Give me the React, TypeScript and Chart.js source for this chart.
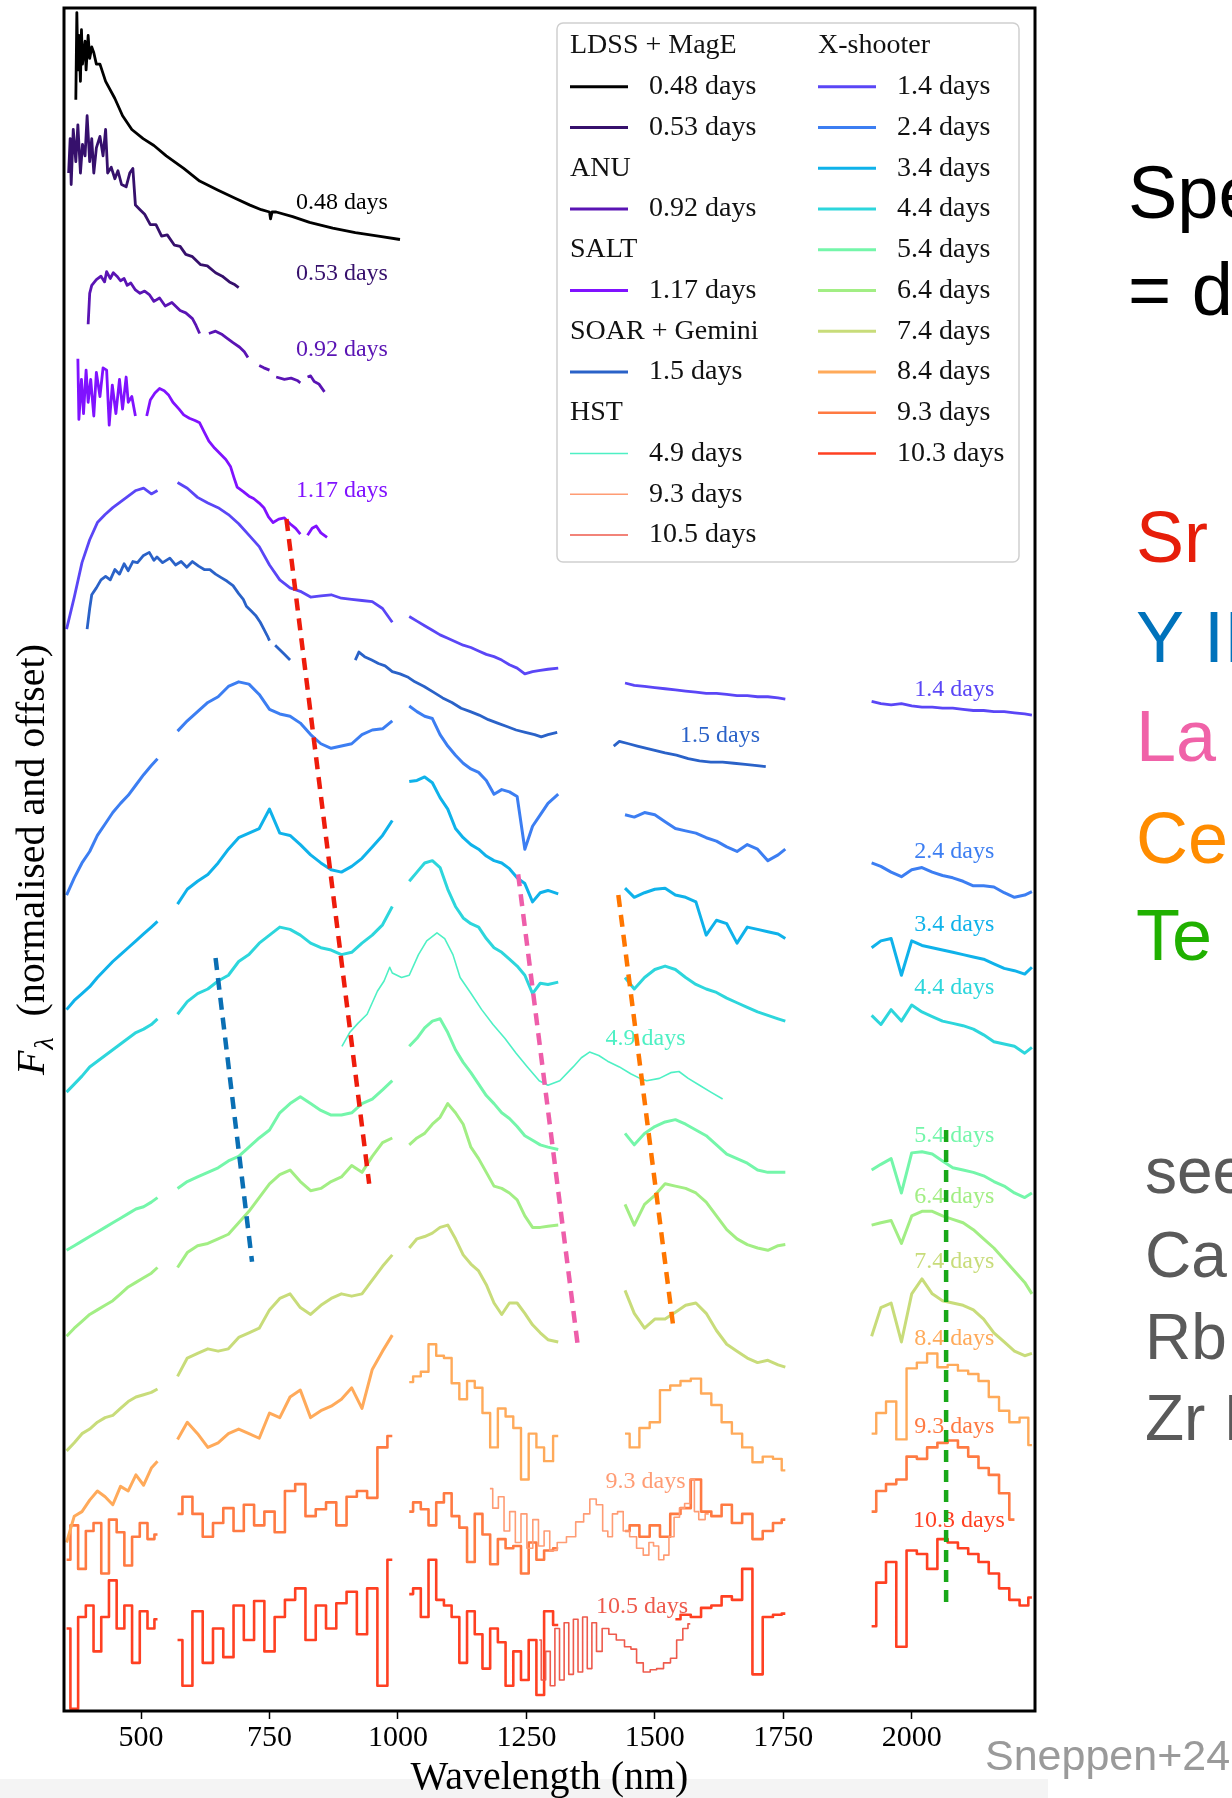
import React, { useEffect, useRef } from "react";
import { Chart, registerables } from "chart.js";

Chart.register(...registerables);

const CANVAS_W = 1232;
const CANVAS_H = 1798;
const SERIF = "'Liberation Serif', 'Times New Roman', serif";
const SANS = "'Liberation Sans', Arial, Helvetica, sans-serif";

// ---------- axes ----------
const X_TICKS = [500, 750, 1000, 1250, 1500, 1750, 2000];
const X_MIN = 350;
const X_MAX = 2240;
const Y_MIN = 0;
const Y_MAX = 14.86;

// ---------- X-shooter wavelength grids (nm), one per band ----------
const XS_UVB = [355, 370, 385, 400, 415, 430, 445, 460, 475, 490, 505, 520, 532];
const XS_VIS = [571, 590, 610, 630, 650, 670, 690, 710, 730, 750, 770, 790, 810, 830, 850, 870, 890, 910, 930, 950, 970, 989];
const XS_J = [1022, 1037, 1052, 1067, 1082, 1097, 1112, 1127, 1142, 1157, 1172, 1187, 1202, 1217, 1232, 1247, 1262, 1277, 1292, 1312];
const XS_H = [1442, 1460, 1480, 1500, 1520, 1540, 1560, 1580, 1600, 1620, 1640, 1660, 1680, 1700, 1720, 1740, 1754];
const XS_K = [1922, 1940, 1960, 1980, 2000, 2020, 2040, 2060, 2080, 2100, 2120, 2140, 2160, 2180, 2200, 2220, 2234];
const XS_BANDS = [XS_UVB, XS_VIS, XS_J, XS_H, XS_K];

// ---------- X-shooter fluxes (normalised + offset), per band ----------
const XS_1_4 = [
  [9.44, 9.72, 10.02, 10.22, 10.37, 10.44, 10.5, 10.55, 10.6, 10.65, 10.67, 10.62, 10.65],
  [10.72, 10.67, 10.59, 10.54, 10.5, 10.44, 10.36, 10.26, 10.16, 10.0, 9.87, 9.8, 9.77, 9.72, 9.73, 9.74, 9.71, 9.7, 9.69, 9.68, 9.62, 9.5],
  [9.55, 9.51, 9.47, 9.43, 9.39, 9.36, 9.33, 9.3, 9.28, 9.25, 9.22, 9.2, 9.17, 9.13, 9.1, 9.05, 9.07, 9.08, 9.09, 9.1],
  [8.97, 8.95, 8.94, 8.93, 8.92, 8.91, 8.9, 8.89, 8.88, 8.88, 8.87, 8.86, 8.86, 8.85, 8.85, 8.84, 8.83],
  [8.81, 8.79, 8.78, 8.79, 8.77, 8.76, 8.76, 8.75, 8.75, 8.74, 8.73, 8.73, 8.72, 8.72, 8.71, 8.7, 8.69],
];
const XS_2_4 = [
  [7.12, 7.27, 7.4, 7.5, 7.64, 7.74, 7.84, 7.92, 7.99, 8.08, 8.17, 8.25, 8.31],
  [8.55, 8.64, 8.72, 8.8, 8.85, 8.94, 8.98, 8.96, 8.87, 8.74, 8.7, 8.68, 8.62, 8.52, 8.44, 8.4, 8.42, 8.44, 8.52, 8.56, 8.57, 8.64],
  [8.77, 8.72, 8.68, 8.66, 8.52, 8.42, 8.34, 8.27, 8.22, 8.19, 8.12, 8.0, 8.04, 8.02, 7.98, 7.52, 7.72, 7.82, 7.92, 8.0],
  [7.82, 7.8, 7.84, 7.82, 7.76, 7.7, 7.68, 7.66, 7.62, 7.59, 7.54, 7.5, 7.56, 7.52, 7.42, 7.47, 7.52],
  [7.4, 7.37, 7.32, 7.28, 7.34, 7.36, 7.32, 7.29, 7.27, 7.24, 7.2, 7.2, 7.19, 7.14, 7.1, 7.12, 7.15],
];
const XS_3_4 = [
  [6.12, 6.2, 6.26, 6.32, 6.4, 6.47, 6.54, 6.6, 6.66, 6.72, 6.78, 6.84, 6.89],
  [7.04, 7.17, 7.24, 7.3, 7.4, 7.52, 7.62, 7.66, 7.7, 7.87, 7.66, 7.64, 7.56, 7.47, 7.4, 7.34, 7.32, 7.37, 7.44, 7.54, 7.64, 7.77],
  [8.11, 8.12, 8.15, 8.1, 7.97, 7.87, 7.7, 7.62, 7.56, 7.52, 7.46, 7.42, 7.4, 7.35, 7.27, 7.22, 7.06, 7.14, 7.16, 7.13],
  [7.18, 7.1, 7.14, 7.17, 7.18, 7.12, 7.1, 7.06, 6.77, 6.9, 6.87, 6.7, 6.84, 6.82, 6.8, 6.78, 6.74],
  [6.66, 6.72, 6.74, 6.42, 6.72, 6.68, 6.66, 6.64, 6.62, 6.6, 6.58, 6.56, 6.52, 6.48, 6.46, 6.43, 6.49],
];
const XS_4_4 = [
  [5.4, 5.47, 5.54, 5.62, 5.67, 5.72, 5.77, 5.82, 5.87, 5.92, 5.95, 5.99, 6.04],
  [6.08, 6.19, 6.26, 6.3, 6.37, 6.42, 6.54, 6.6, 6.7, 6.77, 6.84, 6.82, 6.77, 6.7, 6.66, 6.64, 6.6, 6.62, 6.7, 6.77, 6.86, 7.02],
  [7.24, 7.32, 7.4, 7.42, 7.36, 7.17, 7.02, 6.92, 6.87, 6.84, 6.74, 6.66, 6.62, 6.56, 6.5, 6.42, 6.26, 6.35, 6.34, 6.36],
  [6.4, 6.3, 6.4, 6.47, 6.5, 6.47, 6.4, 6.34, 6.3, 6.27, 6.22, 6.18, 6.14, 6.1, 6.07, 6.04, 6.02],
  [6.07, 5.99, 6.12, 6.02, 6.16, 6.1, 6.06, 6.02, 6.0, 5.98, 5.95, 5.9, 5.84, 5.82, 5.8, 5.74, 5.79],
];
const XS_5_4 = [
  [4.02, 4.06, 4.1, 4.14, 4.18, 4.22, 4.26, 4.3, 4.34, 4.38, 4.4, 4.44, 4.48],
  [4.56, 4.62, 4.66, 4.7, 4.74, 4.8, 4.84, 4.92, 5.0, 5.07, 5.22, 5.3, 5.36, 5.3, 5.24, 5.2, 5.2, 5.22, 5.3, 5.34, 5.42, 5.5],
  [5.8, 5.87, 5.96, 6.02, 6.04, 5.92, 5.77, 5.66, 5.57, 5.47, 5.37, 5.3, 5.22, 5.17, 5.1, 5.02, 4.98, 4.94, 4.92, 4.9],
  [5.04, 4.94, 5.04, 5.1, 5.14, 5.16, 5.12, 5.07, 5.02, 4.94, 4.86, 4.82, 4.78, 4.72, 4.7, 4.7, 4.7],
  [4.72, 4.77, 4.82, 4.52, 4.87, 4.88, 4.86, 4.8, 4.74, 4.72, 4.7, 4.67, 4.62, 4.58, 4.52, 4.48, 4.52],
];
const XS_6_4 = [
  [3.27, 3.34, 3.4, 3.46, 3.5, 3.54, 3.58, 3.64, 3.7, 3.74, 3.78, 3.82, 3.87],
  [3.87, 4.0, 4.06, 4.08, 4.12, 4.16, 4.26, 4.36, 4.48, 4.6, 4.68, 4.72, 4.62, 4.54, 4.56, 4.62, 4.66, 4.76, 4.7, 4.84, 4.96, 5.0],
  [4.94, 5.0, 5.04, 5.12, 5.18, 5.3, 5.22, 5.12, 4.92, 4.82, 4.7, 4.58, 4.56, 4.52, 4.46, 4.32, 4.22, 4.22, 4.23, 4.24],
  [4.42, 4.24, 4.42, 4.5, 4.6, 4.58, 4.56, 4.52, 4.44, 4.32, 4.2, 4.12, 4.07, 4.04, 4.02, 4.06, 4.07],
  [4.24, 4.26, 4.28, 4.08, 4.32, 4.36, 4.36, 4.32, 4.29, 4.26, 4.2, 4.12, 4.04, 3.94, 3.84, 3.74, 3.64],
];
const XS_7_4 = [
  [2.27, 2.34, 2.42, 2.46, 2.52, 2.56, 2.58, 2.64, 2.7, 2.74, 2.76, 2.78, 2.81],
  [2.92, 3.08, 3.12, 3.16, 3.14, 3.16, 3.26, 3.3, 3.34, 3.5, 3.6, 3.64, 3.52, 3.46, 3.54, 3.6, 3.64, 3.62, 3.64, 3.76, 3.88, 3.98],
  [4.04, 4.12, 4.14, 4.17, 4.22, 4.24, 4.12, 3.98, 3.9, 3.84, 3.72, 3.56, 3.46, 3.56, 3.56, 3.47, 3.37, 3.3, 3.24, 3.22],
  [3.67, 3.47, 3.34, 3.42, 3.42, 3.48, 3.54, 3.56, 3.47, 3.32, 3.2, 3.14, 3.08, 3.04, 3.06, 3.02, 3.0],
  [3.27, 3.52, 3.56, 3.22, 3.64, 3.77, 3.64, 3.58, 3.56, 3.54, 3.5, 3.42, 3.3, 3.22, 3.14, 3.1, 3.12],
];
const XS_8_4 = [
  [1.47, 1.7, 1.74, 1.84, 1.92, 1.87, 1.8, 1.96, 1.92, 2.06, 1.97, 2.12, 2.18],
  [2.37, 2.52, 2.42, 2.3, 2.34, 2.42, 2.46, 2.42, 2.38, 2.6, 2.56, 2.74, 2.8, 2.56, 2.62, 2.66, 2.72, 2.82, 2.64, 2.98, 3.14, 3.28],
  [2.87, 2.92, 2.96, 3.2, 3.1, 3.08, 2.86, 2.72, 2.88, 2.82, 2.6, 2.3, 2.64, 2.57, 2.47, 2.02, 2.42, 2.3, 2.18, 2.4],
  [2.42, 2.3, 2.47, 2.52, 2.8, 2.84, 2.88, 2.9, 2.77, 2.67, 2.52, 2.42, 2.3, 2.17, 2.22, 2.2, 2.1],
  [2.42, 2.6, 2.7, 2.37, 2.99, 3.04, 3.12, 3.0, 3.02, 2.97, 2.94, 2.88, 2.74, 2.62, 2.52, 2.56, 2.32],
];
const XS_9_3 = [
  [1.32, 1.62, 1.24, 1.57, 1.64, 1.2, 1.67, 1.56, 1.27, 1.52, 1.64, 1.5, 1.54],
  [1.72, 1.87, 1.72, 1.52, 1.64, 1.77, 1.57, 1.8, 1.62, 1.74, 1.56, 1.92, 1.98, 1.7, 1.76, 1.82, 1.62, 1.87, 1.92, 1.86, 2.3, 2.4],
  [1.74, 1.82, 1.76, 1.62, 1.82, 1.9, 1.7, 1.6, 1.3, 1.72, 1.54, 1.28, 1.5, 1.42, 1.44, 1.2, 1.47, 1.32, 1.4, 1.42],
  [1.57, 1.62, 1.52, 1.62, 1.52, 1.72, 1.77, 2.02, 1.74, 1.7, 1.8, 1.64, 1.72, 1.5, 1.57, 1.64, 1.67],
  [1.74, 1.92, 1.98, 2.02, 2.22, 2.2, 2.3, 2.34, 2.36, 2.3, 2.22, 2.12, 2.06, 1.9, 1.67, null, null],
];
const XS_10_3 = [
  [0.72, 0.02, 0.82, 0.92, 0.52, 0.82, 1.14, 0.72, 0.92, 0.42, 0.87, 0.72, 0.8],
  [0.62, 0.22, 0.87, 0.42, 0.72, 0.47, 0.92, 0.62, 0.96, 0.52, 0.82, 0.97, 1.07, 0.62, 0.92, 0.72, 0.94, 1.04, 0.67, 1.07, 0.22, 1.32],
  [1.02, 1.07, 0.82, 1.32, 0.97, 0.92, 0.82, 0.42, 0.87, 0.67, 0.37, 0.72, 0.6, 0.22, 0.52, 0.27, 0.62, 0.14, 0.87, 0.75],
  [null, null, null, null, null, 0.8, 0.84, 0.82, 0.9, 0.92, 1.0, 0.97, 1.24, 0.32, 0.82, 0.84, 0.85],
  [0.74, 1.12, 1.3, 0.56, 1.4, 1.37, 1.24, 1.5, 1.47, 1.42, 1.37, 1.3, 1.2, 1.07, 0.97, 0.92, 0.99],
];

// ---------- other instruments: segments of [nm, flux] ----------
const LDSS_048 = [[
  [373, 14.06], [375, 14.82], [377, 14.32], [379, 14.62], [382, 14.22], [384, 14.67], [386, 14.37], [391, 14.57],
  [393, 14.32], [397, 14.62], [400, 14.42], [404, 14.52], [408, 14.47], [413, 14.37], [420, 14.37], [431, 14.22],
  [449, 14.07], [464, 13.92], [482, 13.8], [504, 13.72], [525, 13.66], [549, 13.57], [583, 13.46], [614, 13.35],
  [650, 13.27], [683, 13.2], [712, 13.14], [734, 13.1], [750, 13.08], [752, 13.02], [755, 13.08], [763, 13.08],
  [795, 13.04], [828, 12.99], [873, 12.94], [917, 12.9], [962, 12.87], [1004, 12.84],
]];
const LDSS_053 = [[
  [359, 13.42], [362, 13.72], [364, 13.32], [368, 13.8], [373, 13.52], [377, 13.84], [382, 13.42], [386, 13.67],
  [391, 13.57], [395, 13.92], [400, 13.52], [404, 13.72], [408, 13.42], [413, 13.64], [420, 13.74], [426, 13.57],
  [431, 13.8], [435, 13.42], [442, 13.47], [449, 13.37], [455, 13.44], [462, 13.32], [471, 13.3], [478, 13.42],
  [484, 13.46], [489, 13.14], [498, 13.1], [507, 13.06], [518, 12.97], [529, 12.97], [540, 12.87], [551, 12.88],
  [565, 12.79], [576, 12.78], [587, 12.71], [600, 12.69], [616, 12.62], [629, 12.61], [645, 12.55], [658, 12.52],
  [672, 12.47], [681, 12.45], [690, 12.42],
]];
const ANU_092 = [
  [[397, 12.1], [400, 12.37], [404, 12.44], [413, 12.49], [422, 12.52], [429, 12.47], [433, 12.56], [440, 12.5],
   [446, 12.55], [453, 12.52], [460, 12.48], [467, 12.5], [473, 12.44], [480, 12.46], [489, 12.4], [498, 12.37],
   [507, 12.39], [516, 12.36], [525, 12.3], [536, 12.33], [547, 12.26], [560, 12.29], [576, 12.22], [587, 12.2],
   [600, 12.15], [607, 12.09], [614, 12.02]],
  [[632, 12.02], [645, 12.04], [658, 12.01], [667, 11.98], [679, 11.94], [692, 11.9], [701, 11.86], [708, 11.81]],
  [[730, 11.74], [739, 11.72], [750, 11.7]],
  [[763, 11.64], [779, 11.62], [792, 11.63], [804, 11.61], [810, 11.59]],
  [[824, 11.64], [830, 11.65], [837, 11.6], [846, 11.58], [857, 11.51]],
];
const SALT_117 = [
  [[377, 11.8], [379, 11.27], [384, 11.62], [388, 11.32], [393, 11.7], [397, 11.42], [402, 11.62], [408, 11.3],
   [413, 11.68], [420, 11.47], [426, 11.72], [433, 11.7], [438, 11.22], [444, 11.57], [451, 11.32], [458, 11.62],
   [464, 11.36], [471, 11.64], [475, 11.42], [482, 11.47], [489, 11.3]],
  [[511, 11.3], [518, 11.44], [527, 11.5], [536, 11.54], [545, 11.52], [554, 11.48], [562, 11.42], [574, 11.36],
   [583, 11.31], [594, 11.28], [605, 11.26], [614, 11.24], [623, 11.16], [632, 11.08], [643, 11.02], [654, 10.97],
   [665, 10.92], [674, 10.86], [681, 10.76], [687, 10.68], [699, 10.64], [710, 10.6], [719, 10.58], [730, 10.54],
   [739, 10.5], [748, 10.42], [757, 10.37], [768, 10.4], [779, 10.41], [790, 10.36], [801, 10.32], [810, 10.27]],
  [[824, 10.26], [833, 10.32], [841, 10.34], [850, 10.28], [862, 10.24]],
];
const SOAR_15 = [
  [[395, 9.44], [400, 9.62], [404, 9.74], [413, 9.8], [422, 9.87], [431, 9.9], [440, 9.87], [449, 9.96],
   [458, 9.92], [467, 10.01], [475, 9.95], [484, 10.03], [493, 10.02], [504, 10.08], [516, 10.11], [525, 10.04],
   [531, 10.07], [542, 10.02], [556, 10.06], [567, 10.0], [578, 10.03], [589, 9.98], [600, 10.03], [612, 9.99],
   [623, 9.96], [634, 9.96], [645, 9.92], [656, 9.89], [667, 9.86], [679, 9.82], [690, 9.75], [699, 9.7],
   [705, 9.64], [714, 9.6], [723, 9.56], [732, 9.5], [739, 9.44], [746, 9.38], [750, 9.34]],
  [[761, 9.3], [770, 9.26], [779, 9.22], [790, 9.17]],
  [[917, 9.17], [924, 9.24], [935, 9.2], [949, 9.17], [962, 9.14], [975, 9.12], [989, 9.07], [1004, 9.05],
   [1020, 9.02], [1033, 8.98], [1051, 8.94], [1069, 8.89], [1087, 8.84], [1105, 8.8], [1123, 8.75], [1141, 8.72],
   [1158, 8.69], [1176, 8.65], [1194, 8.62], [1212, 8.59], [1230, 8.56], [1248, 8.54], [1266, 8.52], [1279, 8.5],
   [1292, 8.52], [1310, 8.54]],
  [[1420, 8.42], [1431, 8.46], [1449, 8.44], [1466, 8.42], [1484, 8.4], [1502, 8.38], [1520, 8.36], [1542, 8.34],
   [1565, 8.31], [1587, 8.29], [1609, 8.28], [1632, 8.28], [1654, 8.27], [1676, 8.26], [1699, 8.25], [1716, 8.24]],
];
const HST_49 = [[
  [891, 5.8], [906, 5.92], [922, 6.0], [940, 6.08], [960, 6.28], [973, 6.37], [984, 6.49], [989, 6.44], [1007, 6.4],
  [1022, 6.42], [1040, 6.6], [1056, 6.72], [1076, 6.79], [1091, 6.74], [1107, 6.6], [1121, 6.4], [1141, 6.27],
  [1163, 6.12], [1185, 5.99], [1208, 5.87], [1230, 5.74], [1252, 5.62], [1275, 5.5], [1292, 5.46], [1315, 5.5],
  [1341, 5.62], [1357, 5.7], [1373, 5.75], [1391, 5.72], [1408, 5.67], [1431, 5.62], [1453, 5.56], [1471, 5.52],
  [1484, 5.5], [1509, 5.52], [1531, 5.57], [1547, 5.58], [1565, 5.52], [1587, 5.46], [1609, 5.4], [1632, 5.34],
]];
const HST_93 = [[
  [1179, 1.94], [1190, 1.77], [1201, 1.87], [1212, 1.57], [1223, 1.74], [1234, 1.47], [1245, 1.72], [1257, 1.42],
  [1268, 1.67], [1279, 1.44], [1290, 1.57], [1301, 1.4], [1319, 1.47], [1337, 1.52], [1355, 1.65], [1368, 1.72],
  [1379, 1.85], [1393, 1.8], [1404, 1.57], [1413, 1.52], [1422, 1.72], [1433, 1.74], [1444, 1.57], [1458, 1.52],
  [1471, 1.42], [1484, 1.36], [1493, 1.47], [1502, 1.44], [1513, 1.32], [1522, 1.36], [1533, 1.52], [1542, 1.69],
  [1554, 1.77], [1562, 1.81], [1574, 2.02], [1580, 1.74], [1591, 1.67], [1605, 1.72],
]];
const HST_105 = [[
  [1275, 0.62], [1283, 0.27], [1292, 0.52], [1301, 0.22], [1310, 0.72], [1319, 0.27], [1328, 0.77], [1337, 0.32],
  [1346, 0.8], [1355, 0.34], [1364, 0.82], [1373, 0.37], [1382, 0.77], [1391, 0.52], [1404, 0.72], [1417, 0.67],
  [1433, 0.62], [1449, 0.56], [1458, 0.54], [1471, 0.42], [1484, 0.34], [1498, 0.36], [1509, 0.37], [1525, 0.42],
  [1536, 0.46], [1549, 0.62], [1560, 0.72], [1569, 0.76],
]];

// ---------- line identifications (dashed guides) ----------
const SR_LINE = [[783, 10.4], [944, 4.6]];
const Y_LINE = [[645, 6.57], [716, 3.92]];
const LA_LINE = [[1234, 7.3], [1350, 3.19]];
const CE_LINE = [[1429, 7.12], [1536, 3.35]];
const TE_LINE = [[2067, 5.07], [2067, 0.94]];

// ---------- colours ----------
const COLORS: Record<string, string> = {
  ldss048: "#000000",
  ldss053: "#36106c",
  anu092: "#5a14b4",
  salt117: "#8012ff",
  soar15: "#2a62c8",
  xs14: "#5a46f6",
  xs24: "#3c7ef2",
  xs34: "#0fb2ea",
  xs44: "#2dd6dc",
  xs54: "#74f6aa",
  xs64: "#a2ee84",
  xs74: "#c8dc7a",
  xs84: "#ffaa5a",
  xs93: "#ff7a42",
  xs103: "#ff4022",
  hst49: "#4ef0c4",
  hst93: "#ff9c74",
  hst105: "#ee5a4c",
};

// ---------- in-plot epoch labels: text, nm, flux, series ----------
const DAY_LABELS: [string, number, number, string][] = [
  ["0.48 days", 891, 13.16, "ldss048"],
  ["0.53 days", 891, 12.54, "ldss053"],
  ["0.92 days", 891, 11.88, "anu092"],
  ["1.17 days", 891, 10.65, "salt117"],
  ["1.4 days", 2083, 8.91, "xs14"],
  ["1.5 days", 1627, 8.51, "soar15"],
  ["2.4 days", 2083, 7.5, "xs24"],
  ["3.4 days", 2083, 6.86, "xs34"],
  ["4.4 days", 2083, 6.31, "xs44"],
  ["4.9 days", 1482, 5.87, "hst49"],
  ["5.4 days", 2083, 5.02, "xs54"],
  ["6.4 days", 2083, 4.49, "xs64"],
  ["7.4 days", 2083, 3.92, "xs74"],
  ["8.4 days", 2083, 3.25, "xs84"],
  ["9.3 days", 2083, 2.48, "xs93"],
  ["9.3 days", 1482, 2.0, "hst93"],
  ["10.3 days", 2092, 1.66, "xs103"],
  ["10.5 days", 1475, 0.91, "hst105"],
];

// ---------- legend ----------
const LEGEND_LEFT: [string, string | null][] = [
  ["LDSS + MagE", null], ["0.48 days", "ldss048"], ["0.53 days", "ldss053"],
  ["ANU", null], ["0.92 days", "anu092"],
  ["SALT", null], ["1.17 days", "salt117"],
  ["SOAR + Gemini", null], ["1.5 days", "soar15"],
  ["HST", null], ["4.9 days", "hst49"], ["9.3 days", "hst93"], ["10.5 days", "hst105"],
];
const LEGEND_RIGHT: [string, string | null][] = [
  ["X-shooter", null], ["1.4 days", "xs14"], ["2.4 days", "xs24"], ["3.4 days", "xs34"], ["4.4 days", "xs44"],
  ["5.4 days", "xs54"], ["6.4 days", "xs64"], ["7.4 days", "xs74"], ["8.4 days", "xs84"], ["9.3 days", "xs93"],
  ["10.3 days", "xs103"],
];

// ---------- side notes ----------
const SIDE_NOTES: [string, number, number, number, string][] = [
  ["Spe", 1128, 218, 74, "#000000"],
  ["= d", 1128, 315, 74, "#000000"],
  ["Sr", 1136, 562, 72, "#e61e0a"],
  ["Y II", 1136, 662, 72, "#0072bb"],
  ["La", 1136, 761, 72, "#f062a8"],
  ["Ce", 1136, 863, 72, "#ff8c00"],
  ["Te", 1136, 960, 72, "#20b000"],
  ["see", 1145, 1193, 64, "#5a5a5a"],
  ["Ca", 1145, 1277, 64, "#5a5a5a"],
  ["Rb", 1145, 1359, 64, "#5a5a5a"],
  ["Zr II", 1145, 1440, 64, "#5a5a5a"],
  ["Sneppen+24", 985, 1770, 43, "#9a9a9a"],
];

type Pt = { x: number; y: number | null };

function fromSegments(segs: number[][][]): Pt[] {
  const out: Pt[] = [];
  segs.forEach((seg, i) => {
    if (i > 0) out.push({ x: seg[0][0] - 0.5, y: null });
    seg.forEach(([x, y]) => out.push({ x, y }));
  });
  return out;
}

// bands: indices into XS_BANDS to include
function fromBands(fluxes: (number | null)[][], bands: number[] = [0, 1, 2, 3, 4]): Pt[] {
  const out: Pt[] = [];
  bands.forEach((b, i) => {
    const wave = XS_BANDS[b];
    const flux = fluxes[b];
    if (i > 0) out.push({ x: wave[0] - 0.5, y: null });
    const n = Math.min(wave.length, flux.length);
    for (let j = 0; j < n; j++) out.push({ x: wave[j], y: flux[j] });
  });
  return out;
}

type Series = { key: string; pts: Pt[]; width: number; stepped?: boolean };

const OPT = [0, 1];
const NIR = [2, 3, 4];

const SERIES: Series[] = [
  { key: "ldss048", pts: fromSegments(LDSS_048), width: 2.8 },
  { key: "ldss053", pts: fromSegments(LDSS_053), width: 2.8 },
  { key: "anu092", pts: fromSegments(ANU_092), width: 2.8 },
  { key: "salt117", pts: fromSegments(SALT_117), width: 2.8 },
  { key: "xs14", pts: fromBands(XS_1_4), width: 2.8 },
  { key: "soar15", pts: fromSegments(SOAR_15), width: 2.8 },
  { key: "xs24", pts: fromBands(XS_2_4), width: 3 },
  { key: "xs34", pts: fromBands(XS_3_4), width: 3 },
  { key: "xs44", pts: fromBands(XS_4_4), width: 3 },
  { key: "hst49", pts: fromSegments(HST_49), width: 1.6 },
  { key: "xs54", pts: fromBands(XS_5_4), width: 3 },
  { key: "xs64", pts: fromBands(XS_6_4), width: 3 },
  { key: "xs74", pts: fromBands(XS_7_4), width: 3 },
  { key: "xs84", pts: fromBands(XS_8_4, OPT), width: 3 },
  { key: "xs84", pts: fromBands(XS_8_4, NIR), width: 2.4, stepped: true },
  { key: "hst93", pts: fromSegments(HST_93), width: 1.6, stepped: true },
  { key: "xs93", pts: fromBands(XS_9_3), width: 2.6, stepped: true },
  { key: "hst105", pts: fromSegments(HST_105), width: 1.6, stepped: true },
  { key: "xs103", pts: fromBands(XS_10_3), width: 2.6, stepped: true },
];

const GUIDES: { pts: number[][]; color: string }[] = [
  { pts: SR_LINE, color: "#ee1c0c" },
  { pts: Y_LINE, color: "#0a6fb4" },
  { pts: LA_LINE, color: "#ee5eaa" },
  { pts: CE_LINE, color: "#ff7600" },
  { pts: TE_LINE, color: "#18a818" },
];

const widthOf = (key: string) => SERIES.find((s) => s.key === key)?.width ?? 2.6;

const decorations = {
  id: "decorations",
  beforeDraw(chart: any) {
    const { ctx } = chart;
    ctx.save();
    ctx.fillStyle = "#f4f4f4";
    ctx.fillRect(0, 1779, 1048, CANVAS_H - 1779);
    ctx.restore();
  },
  beforeDatasetsDraw(chart: any) {
    const { ctx, scales } = chart;
    ctx.save();
    ctx.font = `24px ${SERIF}`;
    ctx.textAlign = "center";
    ctx.textBaseline = "middle";
    DAY_LABELS.forEach(([text, wl, f, key]) => {
      ctx.fillStyle = COLORS[key];
      ctx.fillText(text, scales.x.getPixelForValue(wl), scales.y.getPixelForValue(f));
    });
    ctx.restore();
  },
  afterDraw(chart: any) {
    const { ctx, chartArea } = chart;
    const { left, top, right, bottom } = chartArea;
    ctx.save();

    // frame
    ctx.strokeStyle = "#000";
    ctx.lineWidth = 3;
    ctx.strokeRect(left, top, right - left, bottom - top);

    // y-axis title: F_lambda (normalised and offset)
    ctx.save();
    ctx.translate(34, (top + bottom) / 2);
    ctx.rotate(-Math.PI / 2);
    ctx.fillStyle = "#000";
    ctx.textBaseline = "alphabetic";
    ctx.textAlign = "left";
    const fMain = `italic 40px ${SERIF}`;
    const fSub = `italic 28px ${SERIF}`;
    const fRest = `40px ${SERIF}`;
    const rest = "  (normalised and offset)";
    ctx.font = fMain;
    const wF = ctx.measureText("F").width;
    ctx.font = fSub;
    const wL = ctx.measureText("λ").width;
    ctx.font = fRest;
    const wR = ctx.measureText(rest).width;
    let cx = -(wF + wL + wR + 2) / 2;
    const base = 9.5;
    ctx.font = fMain;
    ctx.fillText("F", cx, base);
    cx += wF + 1;
    ctx.font = fSub;
    ctx.fillText("λ", cx, base + 9);
    cx += wL + 1;
    ctx.font = fRest;
    ctx.fillText(rest, cx, base);
    ctx.restore();

    // legend box
    const LX = 557, LY = 23, LW = 462, LH = 539;
    ctx.beginPath();
    if ((ctx as any).roundRect) (ctx as any).roundRect(LX, LY, LW, LH, 6);
    else ctx.rect(LX, LY, LW, LH);
    ctx.fillStyle = "rgba(255,255,255,0.9)";
    ctx.fill();
    ctx.strokeStyle = "#cfcfcf";
    ctx.lineWidth = 1.5;
    ctx.stroke();

    const row0 = 46;
    const rowH = 40.75;
    const drawColumn = (items: [string, string | null][], x0: number) => {
      items.forEach(([text, key], i) => {
        const yy = row0 + i * rowH;
        ctx.font = `28px ${SERIF}`;
        ctx.fillStyle = "#111";
        ctx.textBaseline = "middle";
        ctx.textAlign = "left";
        if (key === null) {
          ctx.fillText(text, x0, yy);
        } else {
          ctx.strokeStyle = COLORS[key];
          ctx.lineWidth = widthOf(key);
          ctx.beginPath();
          ctx.moveTo(x0, yy);
          ctx.lineTo(x0 + 58, yy);
          ctx.stroke();
          ctx.fillText(text, x0 + 79, yy);
        }
      });
    };
    drawColumn(LEGEND_LEFT, 570);
    drawColumn(LEGEND_RIGHT, 818);

    // side notes
    ctx.textBaseline = "alphabetic";
    ctx.textAlign = "left";
    SIDE_NOTES.forEach(([text, x, y, size, color]) => {
      ctx.font = `${size}px ${SANS}`;
      ctx.fillStyle = color;
      ctx.fillText(text, x, y);
    });
    ctx.restore();
  },
};

export default function App() {
  const canvasRef = useRef<HTMLCanvasElement>(null);

  useEffect(() => {
    const canvas = canvasRef.current;
    if (!canvas) return;
    Chart.defaults.font.family = SERIF;

    const datasets: any[] = [
      ...GUIDES.map((g) => ({
        data: g.pts.map(([x, y]) => ({ x, y })),
        borderColor: g.color,
        borderWidth: 4.5,
        borderDash: [12, 8],
        borderCapStyle: "butt",
        pointRadius: 0,
        fill: false,
        order: 0,
      })),
      ...SERIES.map((s) => ({
        data: s.pts,
        borderColor: COLORS[s.key],
        borderWidth: s.width,
        stepped: s.stepped ? "middle" : false,
        tension: 0,
        pointRadius: 0,
        fill: false,
        spanGaps: false,
        borderJoinStyle: "round",
        order: 1,
      })),
    ];

    const chart = new Chart(canvas, {
      type: "line",
      data: { datasets },
      options: {
        animation: false,
        responsive: false,
        devicePixelRatio: 1,
        events: [],
        layout: { padding: { left: 64, right: 197, top: 8, bottom: 0 } },
        plugins: { legend: { display: false }, tooltip: { enabled: false } },
        scales: {
          x: {
            type: "linear",
            position: "bottom",
            min: X_MIN,
            max: X_MAX,
            afterBuildTicks: (s: any) => {
              s.ticks = X_TICKS.map((v) => ({ value: v }));
            },
            afterFit: (s: any) => {
              s.height = 87;
            },
            ticks: {
              callback: (v: any) => String(v),
              font: { family: SERIF, size: 30 },
              color: "#000",
              padding: 1,
              maxRotation: 0,
              autoSkip: false,
            },
            grid: {
              drawOnChartArea: false,
              drawTicks: true,
              tickLength: 8,
              tickWidth: 1.5,
              tickColor: "#000",
            },
            border: { display: false },
            title: {
              display: true,
              text: "Wavelength (nm)",
              font: { family: SERIF, size: 40, lineHeight: 1 },
              color: "#000",
              padding: 0,
            },
          },
          y: { type: "linear", display: false, min: Y_MIN, max: Y_MAX },
        },
      } as any,
      plugins: [decorations],
    });

    return () => chart.destroy();
  }, []);

  return (
    <div style={{ position: "absolute", left: 0, top: 0, width: CANVAS_W, height: CANVAS_H, overflow: "hidden" }}>
      <canvas
        ref={canvasRef}
        width={CANVAS_W}
        height={CANVAS_H}
        style={{ display: "block", width: CANVAS_W, height: CANVAS_H }}
      />
    </div>
  );
}
